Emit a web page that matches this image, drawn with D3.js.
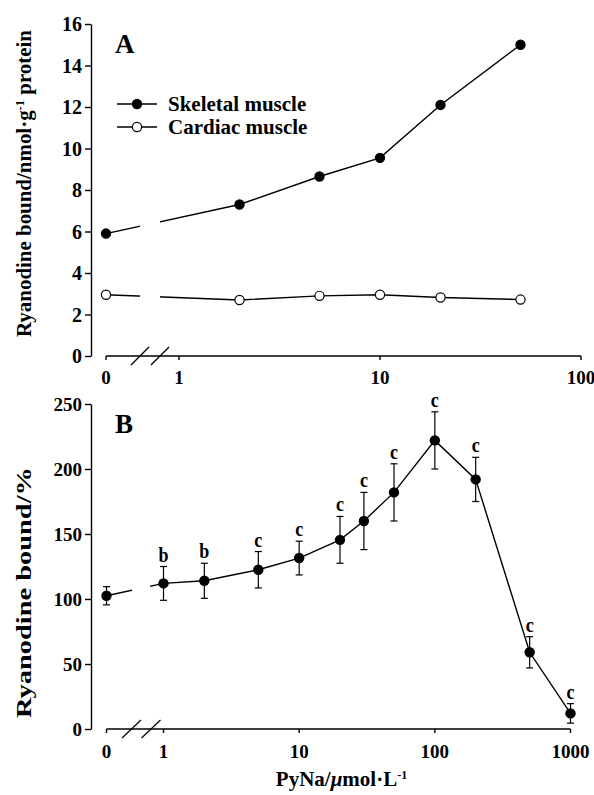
<!DOCTYPE html>
<html><head><meta charset="utf-8">
<script src="https://cdn.jsdelivr.net/npm/d3@7"></script>
<style>
body{margin:0;background:#fff}
text{font-family:"Liberation Serif","Times New Roman",serif;font-weight:bold;fill:#000}
</style>
</head><body>
<svg id="c" width="594" height="795"></svg>
<script>
// ---- data: panel A ----
const concA = [0, 2, 5, 10, 20, 50];
const skeletal = [5.9, 7.3, 8.65, 9.55, 12.1, 15.0];
const cardiac = [2.95, 2.7, 2.9, 2.95, 2.82, 2.72];
const yTicksA = [0, 2, 4, 6, 8, 10, 12, 14, 16];
const xTicksA = [0, 1, 10, 100];
const seriesNames = ["Skeletal muscle", "Cardiac muscle"];
// ---- data: panel B ----
const concB = [0, 1, 2, 5, 10, 20, 30, 50, 100, 200, 500, 1000];
const boundB = [102.5, 112, 114, 122.5, 131.5, 145.5, 160, 182, 222, 192, 59, 12];
const errB = [7, 13, 13.5, 14, 13, 18, 22, 22, 22, 17, 12, 7.5];
const sigB = ["", "b", "b", "c", "c", "c", "c", "c", "c", "c", "c", "c"];
const yTicksB = [0, 50, 100, 150, 200, 250];
const xTicksB = [0, 1, 10, 100, 1000];

const svg = d3.select("#c");
const SW = 1.4;

function panel(cfg) {
  const g = svg.append("g");
  const y = d3.scaleLinear().domain(cfg.yDomain).range([cfg.yBottom, cfg.yTop]);
  const xl = d3.scaleLog().domain(cfg.xLogDomain).range(cfg.xLogRange);
  const x = v => v === 0 ? cfg.x0 : xl(v);

  // y axis
  const ya = g.append("g").attr("transform", `translate(${cfg.yAxisX},0)`)
    .call(d3.axisLeft(y).tickValues(cfg.yTicks).tickSize(6).tickSizeOuter(0).tickPadding(3));
  ya.selectAll("path,line").attr("stroke", "#000").attr("stroke-width", SW);
  ya.selectAll("text").style("font-size", cfg.tickFont + "px").attr("font-family", null)
    .style("font-family", '"Liberation Serif",serif').attr("dy", "0.34em");

  // x axis (manual: zero + log decades)
  const xaY = cfg.yBottom;
  g.append("line").attr("x1", cfg.x0).attr("x2", xl(cfg.xLogDomain[1]))
    .attr("y1", xaY).attr("y2", xaY).attr("stroke", "#000").attr("stroke-width", SW);
  g.selectAll(".xt").data(cfg.xTicks).join("line")
    .attr("x1", d => x(d)).attr("x2", d => x(d)).attr("y1", xaY).attr("y2", xaY + 4)
    .attr("stroke", "#000").attr("stroke-width", SW);
  g.selectAll(".xl").data(cfg.xTicks).join("text")
    .attr("x", d => x(d)).attr("y", cfg.xLabelY).attr("text-anchor", "middle")
    .style("font-size", cfg.xTickFont + "px").text(d => d);
  // break marks
  cfg.breaks.forEach(b => {
    g.append("line").attr("x1", b[0]).attr("y1", xaY + 9).attr("x2", b[1]).attr("y2", xaY - 9)
      .attr("stroke", "#000").attr("stroke-width", 1.2);
  });

  // clip for the line gap
  const cid = "clip" + cfg.id;
  const cp = svg.append("clipPath").attr("id", cid);
  cp.append("rect").attr("x", 0).attr("y", 0).attr("width", cfg.gap[0]).attr("height", 795);
  cp.append("rect").attr("x", cfg.gap[1]).attr("y", 0).attr("width", 594 - cfg.gap[1]).attr("height", 795);

  // panel letter
  g.append("text").attr("x", 115).attr("y", cfg.letterY).style("font-size", cfg.letterFont + "px").text(cfg.letter);

  return {g, x, y, cid};
}

// ---------- Panel A ----------
const A = panel({
  id: "A", yDomain: [0, 16], yTop: 24, yBottom: 356, yAxisX: 91, yTicks: yTicksA,
  xLogDomain: [1, 100], xLogRange: [179, 581], x0: 106, xTicks: xTicksA,
  xLabelY: 384, tickFont: 20, xTickFont: 19, breaks: [[131, 149], [151, 169]], gap: [140, 160],
  letter: "A", letterY: 53, letterFont: 27
});
const lineA = d3.line().x((d, i) => A.x(concA[i])).y(d => A.y(d));
[skeletal, cardiac].forEach((s, k) => {
  A.g.append("path").attr("d", lineA(s)).attr("fill", "none").attr("stroke", "#000")
    .attr("stroke-width", SW).attr("clip-path", `url(#${A.cid})`);
  A.g.selectAll(".m" + k).data(s).join("circle")
    .attr("cx", (d, i) => A.x(concA[i])).attr("cy", d => A.y(d)).attr("r", 4.6)
    .attr("fill", k === 0 ? "#000" : "#fff").attr("stroke", "#000").attr("stroke-width", 1.2);
});
// legend
const legY = [104, 127];
seriesNames.forEach((n, k) => {
  A.g.append("line").attr("x1", 117).attr("x2", 157).attr("y1", legY[k]).attr("y2", legY[k])
    .attr("stroke", "#000").attr("stroke-width", SW);
  A.g.append("circle").attr("cx", 137).attr("cy", legY[k]).attr("r", 4.6)
    .attr("fill", k === 0 ? "#000" : "#fff").attr("stroke", "#000").attr("stroke-width", 1.2);
  A.g.append("text").attr("x", 168).attr("y", legY[k] + 7).style("font-size", "21px").text(n);
});
// y label A
const tla = svg.append("text").attr("transform", "translate(31,183.5) rotate(-90)")
  .attr("text-anchor", "middle").style("font-size", "20px")
  .attr("textLength", 307).attr("lengthAdjust", "spacingAndGlyphs");
tla.append("tspan").text("Ryanodine bound/nmol\u00B7g");
tla.append("tspan").attr("dy", -7).style("font-size", "12px").text("-1");
tla.append("tspan").attr("dy", 7).text(" protein");

// ---------- Panel B ----------
const B = panel({
  id: "B", yDomain: [0, 250], yTop: 404, yBottom: 729, yAxisX: 91, yTicks: yTicksB,
  xLogDomain: [1, 1000], xLogRange: [163.5, 570.5], x0: 106.5, xTicks: xTicksB,
  xLabelY: 758, tickFont: 19, xTickFont: 19, breaks: [[122, 141], [141.5, 160.5]], gap: [132, 150],
  letter: "B", letterY: 433, letterFont: 27
});
const lineB = d3.line().x((d, i) => B.x(concB[i])).y(d => B.y(d));
B.g.append("path").attr("d", lineB(boundB)).attr("fill", "none").attr("stroke", "#000")
  .attr("stroke-width", SW).attr("clip-path", `url(#${B.cid})`);
const eb = B.g.selectAll(".eb").data(boundB).join("g");
eb.append("line").attr("x1", (d, i) => B.x(concB[i])).attr("x2", (d, i) => B.x(concB[i]))
  .attr("y1", (d, i) => B.y(d - errB[i])).attr("y2", (d, i) => B.y(d + errB[i]))
  .attr("stroke", "#000").attr("stroke-width", 1.2);
[1, -1].forEach(sg => {
  eb.append("line").attr("x1", (d, i) => B.x(concB[i]) - 3.5).attr("x2", (d, i) => B.x(concB[i]) + 3.5)
    .attr("y1", (d, i) => B.y(d + sg * errB[i])).attr("y2", (d, i) => B.y(d + sg * errB[i]))
    .attr("stroke", "#000").attr("stroke-width", 1.2);
});
B.g.selectAll(".mb").data(boundB).join("circle")
  .attr("cx", (d, i) => B.x(concB[i])).attr("cy", d => B.y(d)).attr("r", 5.2).attr("fill", "#000");
B.g.selectAll(".sig").data(boundB).join("text")
  .attr("text-anchor", "middle")
  .attr("transform", (d, i) => `translate(${B.x(concB[i])},${B.y(d + errB[i]) - 5}) scale(1,1.2)`)
  .style("font-size", "18px").text((d, i) => sigB[i]);
// y label B
svg.append("text").attr("transform", "translate(31,592.5) rotate(-90)")
  .attr("text-anchor", "middle").style("font-size", "22px")
  .attr("textLength", 251).attr("lengthAdjust", "spacingAndGlyphs")
  .text("Ryanodine bound/%");
// x label B
const xlb = svg.append("text").attr("x", 341.5).attr("y", 786).attr("text-anchor", "middle")
  .style("font-size", "21px");
xlb.append("tspan").text("PyNa/");
xlb.append("tspan").style("font-style", "italic").text("\u03BC");
xlb.append("tspan").text("mol\u00B7L");
xlb.append("tspan").attr("dy", -7).style("font-size", "12px").text("-1");
</script>
</body></html>
